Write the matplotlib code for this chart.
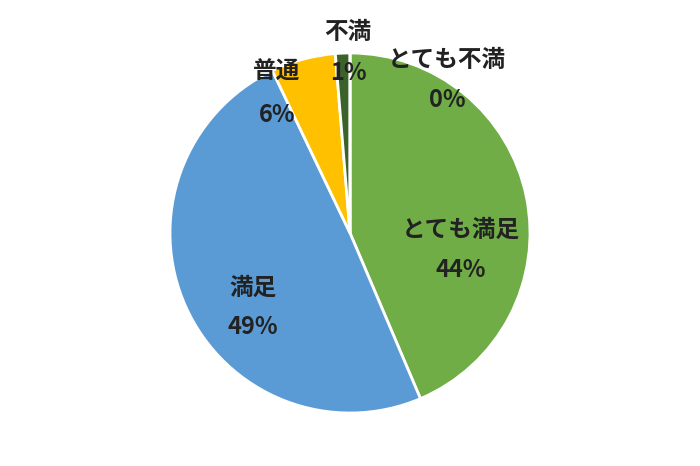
import numpy as np
import matplotlib
matplotlib.use('Agg')
import matplotlib.pyplot as plt

plt.rcParams['font.family'] = ['Noto Sans CJK JP', 'DejaVu Sans']

# slice data, clockwise from 12 o'clock
labels = ['とても満足', '満足', '普通', '不満', 'とても不満']
values = [43.6, 49.3, 5.8, 1.3, 0.0]
colors = ['#70AD47', '#5B9BD5', '#FFC000', '#3B6329', '#264478']

fig = plt.figure(figsize=(7, 4.66), dpi=100)
ax = fig.add_axes([0, 0, 1, 1])

ax.pie(values, colors=colors, startangle=90, counterclock=False,
       radius=1.0, wedgeprops=dict(edgecolor='white', linewidth=2))

# label positions in pixels (cx, y_label, y_pct) -> axis units
px = {
    'とても満足': (461, 230, 270),
    '満足': (253, 288, 327),
    '普通': (277, 72, 115),
    '不満': (348, 32, 73),
    'とても不満': (447, 60, 100),
}
R = 180.0
for lab, v in zip(labels, values):
    cx, y1, y2 = px[lab]
    x = (cx - 350) / R
    ax.text(x, (233 - y1) / R, lab, ha='center', va='center',
            fontsize=17, fontweight='bold', color='#222222')
    ax.text(x, (233 - y2) / R, f'{v:.0f}%', ha='center', va='center',
            fontsize=17, fontweight='bold', color='#222222')

ax.set_xlim(-350 / R, 350 / R)
ax.set_ylim(-233 / R, 233 / R)
ax.set_aspect('equal')
ax.axis('off')

fig.savefig('out.png', dpi=100, facecolor='white')
